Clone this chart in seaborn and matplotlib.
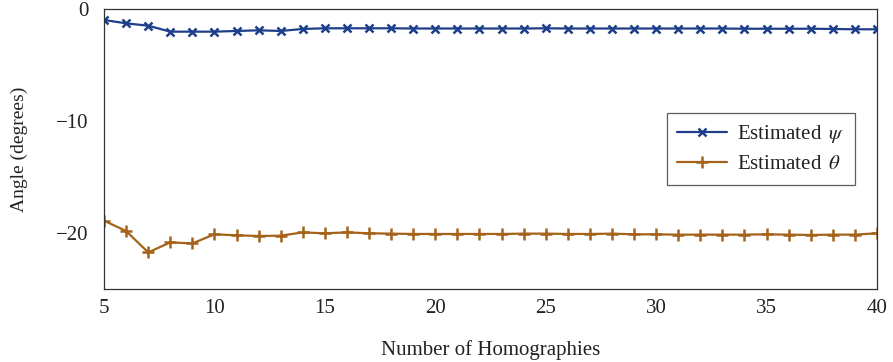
import matplotlib
matplotlib.use("Agg")
import matplotlib.pyplot as plt
import seaborn as sns
import numpy as np
import pandas as pd

# Number of homographies used for the estimate
homographies = list(range(5, 41))

# Estimated psi angle (degrees)
psi_estimates = [-1.02, -1.32, -1.53, -2.06, -2.06, -2.06, -2.00, -1.94, -2.00, -1.82,
                 -1.76, -1.76, -1.76, -1.76, -1.78, -1.78, -1.78, -1.78, -1.78, -1.78,
                 -1.76, -1.78, -1.78, -1.78, -1.78, -1.78, -1.78, -1.78, -1.78, -1.80,
                 -1.80, -1.80, -1.80, -1.82, -1.85, -1.85]

# Estimated theta angle (degrees)
theta_estimates = [-18.88, -19.80, -21.70, -20.81, -20.90, -20.09, -20.18, -20.24, -20.21, -19.92,
                   -20.00, -19.92, -20.00, -20.03, -20.06, -20.06, -20.06, -20.06, -20.06, -20.03,
                   -20.03, -20.06, -20.06, -20.03, -20.09, -20.09, -20.12, -20.12, -20.12, -20.12,
                   -20.09, -20.12, -20.15, -20.12, -20.12, -20.00]

series_labels = [r"Estimated $\,\psi$", r"Estimated $\,\theta$"]
x_ticks = [5, 10, 15, 20, 25, 30, 35, 40]
y_ticks = [0, -10, -20]

sns.set_theme(style="white")
plt.rcParams["font.family"] = ["Liberation Serif", "DejaVu Serif"]
plt.rcParams["mathtext.fontset"] = "stix"
plt.rcParams["axes.unicode_minus"] = True

blue = "#1d3e8a"
brown = "#a4621a"

df = pd.DataFrame({"n": homographies, "psi": psi_estimates, "theta": theta_estimates})

fig = plt.figure(figsize=(8.93, 3.62), dpi=100)
ax = fig.add_axes([0.1165, 0.2003, 0.8655, 0.7762])

sns.lineplot(data=df, x="n", y="psi", ax=ax, color=blue, lw=1.6, marker="x",
             markersize=6, markeredgewidth=1.8, markeredgecolor=blue,
             label=series_labels[0])
sns.lineplot(data=df, x="n", y="theta", ax=ax, color=brown, lw=1.6, marker="+",
             markersize=8, markeredgewidth=1.8, markeredgecolor=brown,
             label=series_labels[1])

ax.set_xlim(5, 40)
ax.set_ylim(-25, 0)
ax.set_xticks(x_ticks)
ax.set_yticks(y_ticks)
ax.tick_params(axis="both", direction="in", length=4, width=0.8, color="#aaaaaa",
               labelsize=15, labelcolor="#222222")
ax.tick_params(axis="x", pad=7)
ax.tick_params(axis="y", pad=11)
for side in ["top", "right", "bottom", "left"]:
    ax.spines[side].set_visible(True)
    ax.spines[side].set_color("#333333")
    ax.spines[side].set_linewidth(0.9)

ax.set_xlabel("Number of Homographies", fontsize=15, labelpad=16, color="#222222")
ax.set_ylabel("Angle (degrees)", fontsize=14, labelpad=20, color="#222222")

leg = ax.legend(loc="upper right", bbox_to_anchor=(0.9716, 0.628), borderaxespad=0,
                fontsize=15, frameon=True, fancybox=False, edgecolor="#333333",
                handlelength=2.4, handletextpad=0.5, borderpad=0.5, labelspacing=0.45)
leg.get_frame().set_linewidth(0.9)
for t in leg.get_texts():
    t.set_color("#222222")

fig.savefig("out.png", dpi=100)
